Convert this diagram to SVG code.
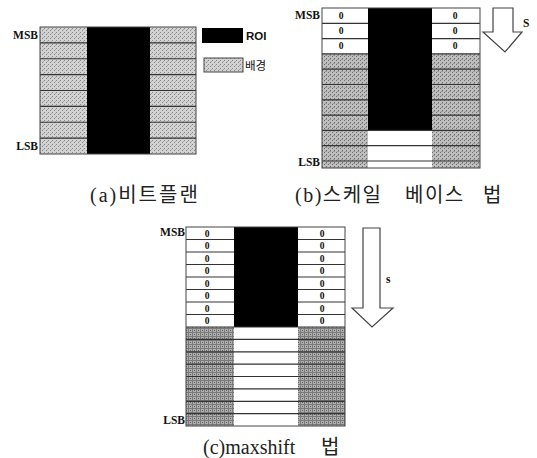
<svg xmlns="http://www.w3.org/2000/svg" width="537" height="458" viewBox="0 0 537 458">
<defs>
<pattern id="hA" width="4" height="4" patternUnits="userSpaceOnUse">
<rect width="4" height="4" fill="#d2d2d2"/>
<rect x="0" y="0" width="1" height="1" fill="#8a8a8a"/>
<rect x="2" y="2" width="1" height="1" fill="#8a8a8a"/>
<rect x="3" y="1" width="1" height="1" fill="#a8a8a8"/>
</pattern>
<pattern id="hB" width="4" height="4" patternUnits="userSpaceOnUse">
<rect width="4" height="4" fill="#bebebe"/>
<rect x="0" y="0" width="1" height="1" fill="#6e6e6e"/>
<rect x="2" y="2" width="1" height="1" fill="#6e6e6e"/>
<rect x="1" y="3" width="2" height="1" fill="#999"/>
</pattern>
<pattern id="hC" width="4" height="4" patternUnits="userSpaceOnUse">
<rect width="4" height="4" fill="#b0b0b0"/>
<rect x="0" y="0" width="4" height="1" fill="#7a7a7a"/>
<rect x="0" y="0" width="1" height="4" fill="#7a7a7a"/>
<rect x="2" y="2" width="1" height="1" fill="#5c5c5c"/>
</pattern>
</defs>
<style>
.lbl{font-family:"Liberation Serif",serif;font-weight:bold;font-size:11.5px;fill:#111}
.zero{font-family:"Liberation Serif",serif;font-weight:bold;font-size:9.5px;fill:#111;text-anchor:middle}
.cap{font-family:"Liberation Serif","Noto Sans CJK KR",serif;font-size:20px;fill:#222}
.ln{stroke:#333;stroke-width:1.2;fill:none}
.box{stroke:#444;stroke-width:1;fill:none}
.arrow{fill:#fff;stroke:#444;stroke-width:1.2}
.leg{font-family:"Liberation Sans","Noto Sans CJK KR",sans-serif;font-size:11.5px;font-weight:bold;fill:#111}
</style>

<g id="panel-a">
<rect x="40" y="27" width="47" height="127" fill="url(#hA)"/>
<rect x="150" y="27" width="46" height="127" fill="url(#hA)"/>
<rect x="87" y="27" width="63" height="127" fill="#000"/>
<path class="ln" d="M40 42.9H87M150 42.9H196M40 58.75H87M150 58.75H196M40 74.6H87M150 74.6H196M40 90.5H87M150 90.5H196M40 106.4H87M150 106.4H196M40 122.25H87M150 122.25H196M40 138.1H87M150 138.1H196"/>
<rect class="box" x="40" y="27" width="156" height="127"/>
<text class="lbl" x="38" y="39" text-anchor="end">MSB</text>
<text class="lbl" x="38" y="150" text-anchor="end">LSB</text>
</g>

<g id="legend">
<rect x="202" y="28" width="41" height="15" fill="#000"/>
<text class="leg" x="246" y="40">ROI</text>
<rect x="204" y="58" width="39" height="14" fill="url(#hA)" stroke="#444" stroke-width="1"/>
<text class="leg" x="245" y="70" style="font-weight:normal">배경</text>
</g>

<g id="panel-b">
<rect x="322" y="53.9" width="46" height="114.1" fill="url(#hB)"/>
<rect x="432" y="53.9" width="48" height="114.1" fill="url(#hB)"/>
<rect x="322" y="8" width="46" height="45.9" fill="#fff"/>
<rect x="432" y="8" width="48" height="45.9" fill="#fff"/>
<rect x="368" y="130.4" width="64" height="37.6" fill="#fff"/>
<rect x="368" y="8" width="64" height="122.4" fill="#000"/>
<path class="ln" d="M322 23.3H368M432 23.3H480M322 38.6H368M432 38.6H480M322 53.9H368M432 53.9H480M322 69.2H368M432 69.2H480M322 84.5H368M432 84.5H480M322 99.8H368M432 99.8H480M322 115.1H368M432 115.1H480M322 130.4H480M322 145.7H480M322 161H480"/>
<rect class="box" x="322" y="8" width="158" height="160"/>
<text class="lbl" x="320" y="19" text-anchor="end">MSB</text>
<text class="lbl" x="320" y="166" text-anchor="end">LSB</text>
<text class="zero" x="341" y="19">0</text>
<text class="zero" x="341" y="34">0</text>
<text class="zero" x="341" y="49">0</text>
<text class="zero" x="455" y="19">0</text>
<text class="zero" x="455" y="34">0</text>
<text class="zero" x="455" y="49">0</text>
</g>

<g id="panel-c">
<rect x="186" y="327" width="48" height="99" fill="url(#hC)"/>
<rect x="298" y="327" width="47" height="99" fill="url(#hC)"/>
<rect x="186" y="227" width="48" height="100" fill="#fff"/>
<rect x="298" y="227" width="47" height="100" fill="#fff"/>
<rect x="234" y="327" width="64" height="99" fill="#fff"/>
<rect x="234" y="227" width="64" height="100" fill="#000"/>
<path class="ln" d="M186 239.5H234M298 239.5H345M186 252H234M298 252H345M186 264.5H234M298 264.5H345M186 277H234M298 277H345M186 289.5H234M298 289.5H345M186 302H234M298 302H345M186 314.5H234M298 314.5H345M186 327H345M186 339.4H345M186 351.8H345M186 364.1H345M186 376.5H345M186 388.9H345M186 401.3H345M186 413.6H345"/>
<rect class="box" x="186" y="227" width="159" height="199"/>
<text class="lbl" x="185" y="236" text-anchor="end">MSB</text>
<text class="lbl" x="185" y="424" text-anchor="end">LSB</text>
<g>
<text class="zero" x="207" y="236.5">0</text><text class="zero" x="322" y="236.5">0</text>
<text class="zero" x="207" y="249">0</text><text class="zero" x="322" y="249">0</text>
<text class="zero" x="207" y="261.5">0</text><text class="zero" x="322" y="261.5">0</text>
<text class="zero" x="207" y="274">0</text><text class="zero" x="322" y="274">0</text>
<text class="zero" x="207" y="286.5">0</text><text class="zero" x="322" y="286.5">0</text>
<text class="zero" x="207" y="299">0</text><text class="zero" x="322" y="299">0</text>
<text class="zero" x="207" y="311.5">0</text><text class="zero" x="322" y="311.5">0</text>
<text class="zero" x="207" y="324">0</text><text class="zero" x="322" y="324">0</text>
</g>
</g>

<g id="connectors">
<path class="arrow" d="M493 8H513V32H522L505 52L483 32H493Z"/>
<text class="lbl" x="523" y="27">S</text>
<path class="arrow" d="M363 228H380V308H393L372 327L352 308H363Z"/>
<text class="lbl" x="386" y="283">s</text>
</g>

<g id="captions">
<text class="cap" x="90" y="202" letter-spacing="2">(a)비트플랜</text>
<text class="cap" x="295" y="202" letter-spacing="1.5">(b)스케일<tspan x="405">베이스</tspan><tspan x="483">법</tspan></text>
<text class="cap" x="203" y="454" font-size="21">(c)maxshift</text>
<text class="cap" x="321" y="454">법</text>
</g>
</svg>
